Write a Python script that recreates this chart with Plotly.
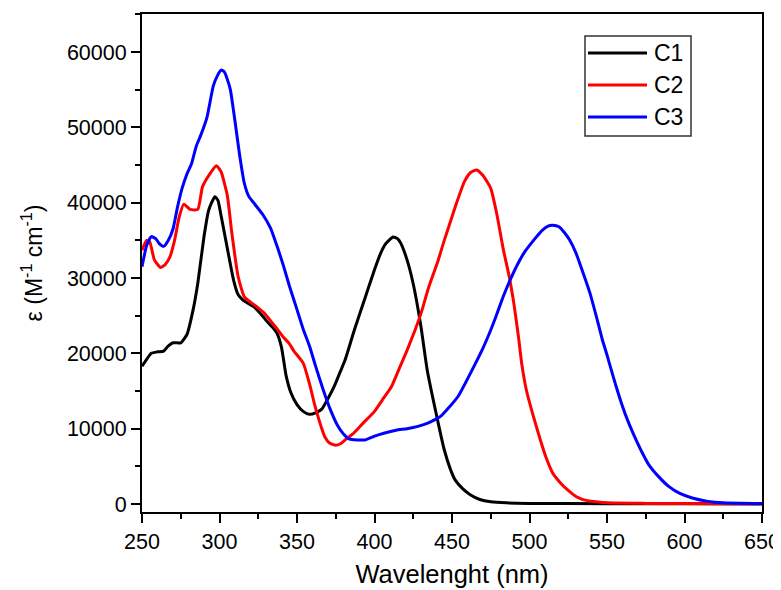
import plotly.graph_objects as go

# ---------------- data ----------------
c1_wl = [250, 253, 256, 260, 264, 267, 270, 275, 279, 283, 286, 290, 293, 297, 299, 301, 305, 309, 312, 315,
         318, 322, 326, 330, 334, 337, 340, 343, 346, 350, 354, 358, 362, 366, 370, 374, 378, 381, 387, 394,
         400, 404, 407, 412, 415, 417, 421, 425, 430, 434, 440, 445, 449, 452, 457, 462, 468, 475, 485, 500,
         550, 600, 650]
c1_eps = [18300, 19200, 20000, 20200, 20300, 21000, 21400, 21400, 22500, 25800, 29300, 35500, 39000, 40800, 40300,
          38300, 34000, 29800, 27800, 27100, 26700, 26200, 25400, 24400, 23500, 22700, 20800, 17000, 14800, 13200,
          12300, 11900, 12100, 12600, 14000, 15600, 17600, 19100, 23100, 27400, 31100, 33300, 34500, 35450, 35200,
          34600, 32400, 29200, 23500, 17800, 11800, 7200, 4600, 3200, 2000, 1200, 600, 300, 150, 80, 40, 20, 10]

c2_wl = [250, 253, 255, 258, 262, 265, 268, 271, 274, 277, 281, 286, 289, 294, 298, 301, 305, 308, 312, 316,
         320, 324, 329, 333, 337, 341, 345, 348, 354, 358, 361, 363, 366, 368, 371, 375, 378, 381, 386, 392,
         400, 405, 411, 416, 421, 426, 430, 435, 441, 445, 449, 453, 458, 462, 466, 470, 475, 479, 483, 487,
         490, 493, 495, 498, 502, 507, 511, 515, 520, 525, 530, 535, 543, 550, 575, 600, 650]
c2_eps = [33700, 35000, 34800, 32400, 31400, 31800, 32800, 35000, 38100, 39800, 39100, 39100, 42100, 43900, 44900,
          44100, 41000, 35900, 30200, 27500, 26800, 26200, 25300, 24300, 23300, 22200, 21300, 20300, 18700, 16000,
          13500, 12000, 10000, 8900, 8100, 7800, 8000, 8500, 9300, 10600, 12300, 13800, 15600, 18000, 20400, 23000,
          25300, 28800, 32300, 35000, 37500, 40000, 42800, 44000, 44350, 43600, 41900, 38400, 33900, 30100, 26500,
          22000, 18600, 15100, 12000, 8500, 6000, 4100, 2800, 1800, 1000, 550, 300, 150, 80, 50, 30]

c3_wl = [250, 253, 256, 259, 261, 264, 267, 270, 273, 276, 279, 282, 285, 288, 292, 296, 299, 301, 303, 305,
         307, 310, 313, 316, 319, 322, 328, 333, 337, 341, 345, 350, 354, 358, 362, 367, 371, 376, 380, 384,
         389, 394, 400, 406, 414, 421, 428, 434, 439, 443, 448, 454, 459, 464, 470, 474, 478, 483, 487, 492,
         497, 503, 508, 512, 515, 519, 523, 526, 530, 533, 539, 543, 547, 550, 554, 558, 562, 567, 572, 577,
         583, 590, 597, 605, 615, 625, 650]
c3_eps = [31500, 34300, 35500, 35200, 34600, 34200, 35000, 36500, 39500, 42000, 43800, 45200, 47500, 49000, 51400,
          55500, 57000, 57600, 57400, 56400, 55000, 50800, 46300, 42600, 40800, 40000, 38400, 36600, 34300, 31800,
          29000, 25800, 23200, 21000, 18300, 15100, 12800, 10500, 9300, 8600, 8500, 8500, 9000, 9400, 9800, 10000,
          10300, 10700, 11200, 11700, 12800, 14300, 16200, 18200, 20700, 22600, 24700, 27500, 29500, 31700,
          33500, 35100, 36300, 36900, 37000, 36800, 35900, 35000, 33300, 31600, 28000, 25000, 21800, 19800,
          16900, 14200, 11800, 9300, 7100, 5200, 3700, 2300, 1400, 800, 350, 150, 50]

series_names = ["C1", "C2", "C3"]
series_colors = ["#000000", "#ff0000", "#0000ff"]
x_ticks = [250, 300, 350, 400, 450, 500, 550, 600, 650]
y_ticks = [0, 10000, 20000, 30000, 40000, 50000, 60000]

# ---------------- figure ----------------
FONT = "Arial, Liberation Sans, sans-serif"
fig = go.Figure()
for wl, eps, name, col in zip([c1_wl, c2_wl, c3_wl], [c1_eps, c2_eps, c3_eps], series_names, series_colors):
    fig.add_trace(go.Scatter(x=wl, y=eps, mode="lines", name=name,
                             line=dict(color=col, width=3, shape="spline", smoothing=0.5), showlegend=False))

axis_common = dict(showline=True, linecolor="black", linewidth=2, mirror=True,
                   ticks="outside", tickcolor="black", tickwidth=2, ticklen=9,
                   showgrid=False, zeroline=False, automargin=False,
                   tickfont=dict(family=FONT, size=21.5, color="black"))

fig.update_xaxes(range=[250, 650], tickvals=x_ticks, ticktext=[str(v) for v in x_ticks],
                 minor=dict(ticks="outside", ticklen=5, tickwidth=2, tickcolor="black", dtick=25, tick0=250),
                 title=dict(text="Wavelenght (nm)", font=dict(family=FONT, size=25.5, color="black"), standoff=12),
                 **axis_common)
fig.update_yaxes(range=[-1062, 65044], tickvals=y_ticks, ticktext=[str(v) for v in y_ticks],
                 minor=dict(ticks="outside", ticklen=5, tickwidth=2, tickcolor="black", dtick=5000, tick0=0),
                 title=dict(text="ε (M<sup>-1</sup> cm<sup>-1</sup>)", font=dict(family=FONT, size=23, color="black"),
                            standoff=18),
                 **axis_common)

# manual legend (box, line samples, labels) -- positions relative to plot area (px in window coords)
def px_x(p):
    return (p - 142) / 620.0

def px_y(p):
    return (512 - p) / 498.0

fig.add_shape(type="rect", xref="paper", yref="paper", x0=px_x(585), x1=px_x(691), y0=px_y(136), y1=px_y(36),
              line=dict(color="#333333", width=1.5), fillcolor="white", layer="above")
for i, (name, col) in enumerate(zip(series_names, series_colors)):
    yy = px_y(53 + 32 * i)
    fig.add_shape(type="line", xref="paper", yref="paper", x0=px_x(588), x1=px_x(647), y0=yy, y1=yy,
                  line=dict(color=col, width=3), layer="above")
    fig.add_annotation(xref="paper", yref="paper", x=px_x(652), y=yy, text=name, showarrow=False,
                       xanchor="left", yanchor="middle", font=dict(family=FONT, size=23, color="black"))

# page body has an 8px margin: figure is offset by 8px, so size/margins compensate
fig.update_layout(width=773, height=582, margin=dict(l=134, r=19, t=6, b=78),
                  paper_bgcolor="white", plot_bgcolor="white", showlegend=False)

fig.write_html("out.html")
